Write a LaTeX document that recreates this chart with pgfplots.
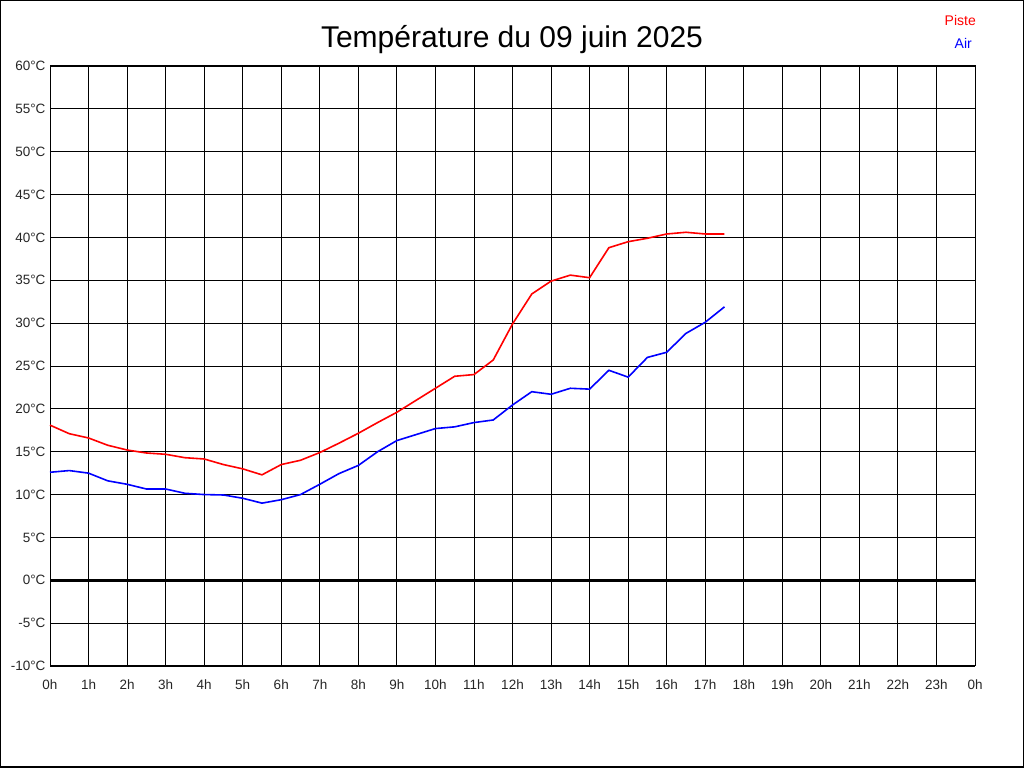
\documentclass[border=0pt]{standalone}
\usepackage{pgfplots}
\pgfplotsset{compat=1.18}
\usepackage{fontspec}
\setmainfont{Liberation Sans}
\begin{document}
\begin{tikzpicture}[x=1bp,y=1bp]
\useasboundingbox (0,0) rectangle (1024,768);
\draw[line width=1.5bp,black] (0.75,0.75) rectangle (1023.25,767.25);
\begin{axis}[
  at={(50bp,102bp)}, anchor=south west,
  scale only axis, width=925bp, height=600bp,
  xmin=0, xmax=24, ymin=-10, ymax=60,
  xtick={0,1,...,24},
  xticklabels={0h,1h,2h,3h,4h,5h,6h,7h,8h,9h,10h,11h,12h,13h,14h,15h,16h,17h,18h,19h,20h,21h,22h,23h,0h},
  ytick={-10,-5,...,60},
  yticklabels={-10°C,-5°C,0°C,5°C,10°C,15°C,20°C,25°C,30°C,35°C,40°C,45°C,50°C,55°C,60°C},
  major tick length=0pt,
  grid=major,
  major grid style={black, line width=0.9bp},
  axis line style={black, line width=1bp},
  tick label style={font=\fontsize{13.5bp}{15bp}\selectfont, text=black!85},
  xticklabel style={yshift=-10.5bp},
  yticklabel style={xshift=-1bp},
  /pgf/number format/assume math mode=true,
  clip=false,
]
\addplot[black, line width=3bp, forget plot] coordinates {(0,0) (24,0)};
\addplot[red, line width=1.6bp] coordinates {
(0,18.1) (0.5,17.1) (1,16.6) (1.5,15.75) (2,15.2) (2.5,14.85) (3,14.7) (3.5,14.3) (4,14.15) (4.5,13.5) (5,13.0) (5.5,12.3) (6,13.5) (6.5,14.0) (7,14.9) (7.5,16.0) (8,17.15) (8.5,18.4) (9,19.6) (9.5,21.0) (10,22.4) (10.5,23.8) (11,24.0) (11.5,25.7) (12,29.9) (12.5,33.4) (13,34.9) (13.5,35.6) (14,35.3) (14.5,38.8) (15,39.5) (15.5,39.9) (16,40.4) (16.5,40.6) (17,40.4) (17.5,40.4)
};
\addplot[blue, line width=1.6bp] coordinates {
(0,12.6) (0.5,12.8) (1,12.5) (1.5,11.6) (2,11.2) (2.5,10.65) (3,10.65) (3.5,10.15) (4,10.0) (4.5,9.95) (5,9.57) (5.5,9.0) (6,9.4) (6.5,10.0) (7,11.2) (7.5,12.45) (8,13.4) (8.5,15.0) (9,16.3) (9.5,17.0) (10,17.7) (10.5,17.9) (11,18.4) (11.5,18.7) (12,20.45) (12.5,22.0) (13,21.7) (13.5,22.4) (14,22.3) (14.5,24.5) (15,23.7) (15.5,26.0) (16,26.6) (16.5,28.8) (17,30.1) (17.5,31.9)
};
\end{axis}
\node[font=\fontsize{30bp}{34bp}\selectfont] at (512,728) {Température du 09 juin 2025};
\node[anchor=east, text=red, font=\fontsize{14bp}{16bp}\selectfont, inner sep=0pt] at (976,747) {Piste};
\node[anchor=east, text=blue, font=\fontsize{14bp}{16bp}\selectfont, inner sep=0pt] at (972,725) {Air};
\end{tikzpicture}
\end{document}
